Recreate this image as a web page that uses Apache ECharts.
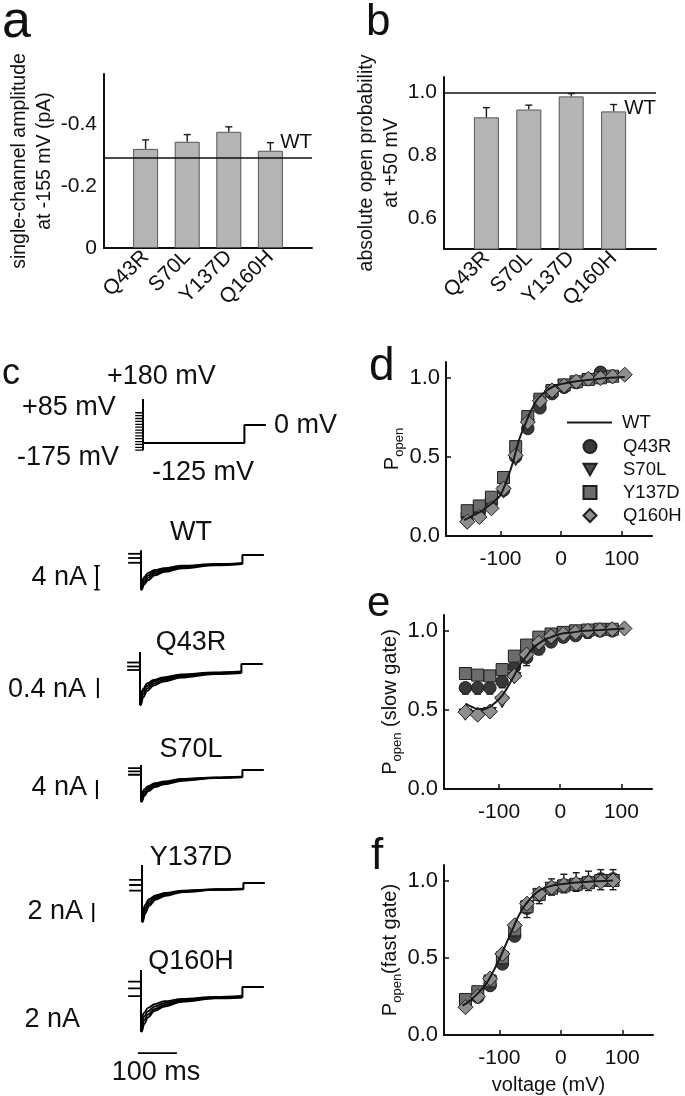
<!DOCTYPE html>
<html><head><meta charset="utf-8">
<script src="https://cdn.jsdelivr.net/npm/echarts@6/dist/echarts.min.js"></script>
<style>html,body{margin:0;padding:0;background:#fff}#c{width:685px;height:1096px}</style>
</head><body><div id="c"></div>
<script>
// ---------------- DATA ----------------
const mutants = ['Q43R', 'S70L', 'Y137D', 'Q160H'];
// panel a: single-channel amplitude at -155 mV (pA)
const ampValues = [-0.319, -0.342, -0.374, -0.313];
const ampErrTop = [-0.348, -0.365, -0.390, -0.339];
const ampWT = -0.29;
const ampTicks = [0, -0.2, -0.4];
// panel b: absolute open probability at +50 mV
const popValues = [0.921, 0.946, 0.988, 0.940];
const popErrTop = [0.952, 0.960, 0.997, 0.962];
const popWT = 1.0;
const popTicks = [0.6, 0.8, 1.0];

// panel c: voltage protocol (mV, ms)
const protoSteps = [-175, -155, -135, -115, -95, -75, -55, -35, -15, 5, 25, 45, 65, 85];
const protoPeak = 180, protoTest = -125, protoTail = 0;
const protoStepStart = -20, testEnd = 260, tailEnd = 315;
// panel c: current traces (nA) sampled at traceT (ms)
const traceT = [2, 8, 18, 35, 60, 105, 190, 260];
const tracesWT = [
  [-4.5, -3.7, -3.0, -2.5, -2.2, -1.8, -1.5, -1.35],
  [-5.0, -4.1, -3.4, -2.8, -2.4, -1.95, -1.6, -1.4],
  [-5.4, -4.5, -3.8, -3.1, -2.6, -2.05, -1.65, -1.45],
  [-5.8, -4.9, -4.2, -3.4, -2.8, -2.2, -1.7, -1.5]];
const tracesQ43R = [
  [-0.62, -0.50, -0.39, -0.32, -0.27, -0.21, -0.17, -0.15],
  [-0.68, -0.55, -0.44, -0.35, -0.29, -0.23, -0.18, -0.16],
  [-0.75, -0.61, -0.49, -0.39, -0.32, -0.25, -0.19, -0.17],
  [-0.82, -0.67, -0.54, -0.43, -0.35, -0.27, -0.20, -0.18]];
const tracesS70L = [
  [-5.0, -4.1, -3.4, -2.8, -2.4, -1.9, -1.55, -1.4],
  [-5.6, -4.6, -3.8, -3.1, -2.6, -2.0, -1.6, -1.45],
  [-6.2, -5.1, -4.2, -3.4, -2.8, -2.15, -1.65, -1.5],
  [-6.7, -5.5, -4.5, -3.6, -3.0, -2.25, -1.7, -1.55]];
const tracesY137D = [
  [-3.0, -2.3, -1.7, -1.3, -1.05, -0.8, -0.66, -0.6],
  [-3.4, -2.6, -1.95, -1.45, -1.15, -0.85, -0.68, -0.62],
  [-3.8, -2.9, -2.2, -1.6, -1.25, -0.9, -0.7, -0.64],
  [-4.1, -3.2, -2.4, -1.75, -1.35, -0.95, -0.72, -0.66]];
const tracesQ160H = [
  [-3.2, -2.7, -2.2, -1.8, -1.5, -1.25, -1.05, -0.95],
  [-3.7, -3.1, -2.55, -2.05, -1.7, -1.35, -1.1, -1.0],
  [-4.2, -3.5, -2.9, -2.3, -1.9, -1.45, -1.15, -1.05],
  [-4.7, -3.9, -3.2, -2.5, -2.05, -1.55, -1.2, -1.1]];
const stubsWT = [0.2, -0.5, -1.3];
const stubsQ43R = [0.03, -0.05, -0.12];
const stubsS70L = [0.4, -0.3, -1.0];
const stubsY137D = [0.32, -0.21, -0.81];
const stubsQ160H = [0.56, -0.14, -0.95];
const spikeWT = [0.8, -5.8];
const spikeQ43R = [0.24, -0.82];
const spikeS70L = [1.05, -6.7];
const spikeY137D = [1.9, -4.1];
const spikeQ160H = [1.8, -4.7];
const scaleWT = [-1.8, -5.8];      // 4 nA
const scaleQ43R = [-0.28, -0.68];  // 0.4 nA
const scaleS70L = [-2.1, -6.1];    // 4 nA
const scaleY137D = [-2.1, -4.1];   // 2 nA
const timeBar = [-8, 92];          // 100 ms
const timeBarLevel = -6.95;

// panels d, e, f: voltages (mV)
const voltages = [-155, -135, -115, -95, -75, -55, -35, -15, 5, 25, 45, 65, 85, 105];
const vTicks = [-100, 0, 100];
const pTicks = [0, 0.5, 1];
// d: Popen
const wtDV = [-160, -150, -140, -130, -120, -110, -100, -90, -80, -70, -60, -50, -40, -30, -20, -10, 0, 20, 40, 60, 80, 105];
const wtD  = [0.10, 0.12, 0.14, 0.16, 0.19, 0.22, 0.26, 0.35, 0.46, 0.60, 0.70, 0.79, 0.86, 0.90, 0.93, 0.95, 0.96, 0.975, 0.985, 0.993, 1.0, 1.005];
const dQ43R  = [0.12, 0.15, 0.21, 0.29, 0.50, 0.68, 0.81, 0.90, 0.94, 0.97, 0.99, 1.035, 1.01];
const dS70L  = [0.11, 0.14, 0.20, 0.275, 0.48, 0.70, 0.85, 0.91, 0.95, 0.97, 0.99, 1.0, 1.0];
const dY137D = [0.16, 0.19, 0.245, 0.37, 0.565, 0.755, 0.865, 0.92, 0.955, 0.975, 0.99, 1.0, 1.01];
const dQ160H = [0.09, 0.12, 0.175, 0.30, 0.51, 0.72, 0.855, 0.92, 0.95, 0.977, 0.994, 0.998, 1.008, 1.02];
// e: Popen (slow gate)
const wtEV = [-155, -145, -135, -125, -115, -105, -95, -85, -75, -65, -55, -45, -35, -25, -15, 0, 20, 40, 65, 85, 105];
const wtE  = [0.54, 0.52, 0.505, 0.505, 0.52, 0.55, 0.59, 0.65, 0.72, 0.79, 0.84, 0.89, 0.92, 0.945, 0.96, 0.98, 0.99, 1.0, 1.005, 1.01, 1.015];
const eQ43R  = [0.64, 0.64, 0.64, 0.68, 0.77, 0.83, 0.885, 0.93, 0.96, 0.97, 0.99, 1.0, 1.0];
const eS70L  = [0.47, 0.46, 0.48, 0.55, 0.70, 0.83, 0.91, 0.95, 0.97, 0.985, 0.995, 1.0, 1.0];
const eY137D = [0.73, 0.72, 0.715, 0.755, 0.84, 0.91, 0.96, 0.98, 0.99, 1.0, 1.005, 1.01, 1.01];
const eQ160H = [0.486, 0.47, 0.49, 0.575, 0.715, 0.85, 0.925, 0.965, 0.98, 0.99, 1.0, 1.005, 1.01, 1.015];
const eErrV   = [-155, -135, -115, -95, -55, -35, -15, 5, 25, 45, 65];
const eErrMid = [0.64, 0.64, 0.64, 0.68, 0.85, 0.925, 0.965, 0.98, 0.99, 1.0, 1.005];
const eErrLo  = [0.60, 0.60, 0.60, 0.64, 0.78, 0.85, 0.90, 0.93, 0.945, 0.955, 0.965];
// f: Popen (fast gate)
const wtFV = [-160, -150, -140, -130, -120, -110, -100, -90, -80, -70, -60, -50, -40, -30, -20, -10, 0, 20, 40, 60, 85];
const wtF  = [0.19, 0.215, 0.25, 0.29, 0.34, 0.41, 0.49, 0.58, 0.67, 0.76, 0.83, 0.88, 0.92, 0.945, 0.96, 0.97, 0.975, 0.985, 0.99, 0.995, 1.0];
const fQ43R  = [0.22, 0.245, 0.32, 0.46, 0.64, 0.82, 0.905, 0.95, 0.97, 0.975, 0.99, 1.01, 1.01];
const fS70L  = [0.21, 0.26, 0.34, 0.49, 0.67, 0.83, 0.91, 0.95, 0.965, 0.975, 0.985, 0.995, 1.0];
const fY137D = [0.23, 0.28, 0.35, 0.50, 0.68, 0.83, 0.91, 0.95, 0.965, 0.975, 0.985, 1.0, 1.0];
const fQ160H = [0.18, 0.25, 0.365, 0.525, 0.71, 0.85, 0.915, 0.955, 0.97, 0.98, 0.985, 0.99, 1.0];
const fErrV  = [-55, -35, -15, 5, 25, 45, 65, 85];
const fErrLo = [0.76, 0.85, 0.905, 0.92, 0.93, 0.935, 0.94, 0.94];
const fErrHi = [0.85, 0.915, 1.01, 1.04, 1.05, 1.06, 1.07, 1.07];

// ---------------- LAYOUT / STYLE ----------------
const FONT = "'Liberation Sans', Arial, Helvetica, sans-serif";
const INK = '#111';
const zip = (xs, ys) => ys.map((y, i) => [xs[i], y]);
const chart = echarts.init(document.getElementById('c'), null, {renderer: 'canvas'});

const tPx = 0.39;                       // px per ms
const tMin = -140, tMax = 330;
const traceCfg = [
  {name: 'WT',    traces: tracesWT,    stubs: stubsWT,    spike: spikeWT,    bar: scaleWT,    t0: 141, tail: 555, ppn: 6,    ymin: -6.5, ymax: 2,   barT: -113, caps: true},
  {name: 'Q43R',  traces: tracesQ43R,  stubs: stubsQ43R,  spike: spikeQ43R,  bar: scaleQ43R,  t0: 140, tail: 664, ppn: 50,   ymin: -0.9, ymax: 0.3, barT: -108},
  {name: 'S70L',  traces: tracesS70L,  stubs: stubsS70L,  spike: spikeS70L,  bar: scaleS70L,  t0: 141, tail: 770, ppn: 4.75, ymin: -7.5, ymax: 2,   barT: -113},
  {name: 'Y137D', traces: tracesY137D, stubs: stubsY137D, spike: spikeY137D, bar: scaleY137D, t0: 142, tail: 883, ppn: 9.5,  ymin: -4.5, ymax: 2.2, barT: -125},
  {name: 'Q160H', traces: tracesQ160H, stubs: stubsQ160H, spike: spikeQ160H, bar: null,       t0: 141, tail: 987, ppn: 9.5,  ymin: -7.5, ymax: 2,   barT: null}
];

const grids = [], xAxes = [], yAxes = [], series = [];
const axLine = {show: true, onZero: false, lineStyle: {color: INK, width: 2}};
const lineSt = (w) => ({color: '#000', width: w});

function errItem(capLo, capHi) {
  return function (params, api) {
    const x = api.value(0), lo = api.value(1), hi = api.value(2);
    const a = api.coord([x, lo]), b = api.coord([x, hi]);
    const st = {stroke: '#1a1a1a', lineWidth: 1.4, fill: null};
    const ch = [{type: 'line', shape: {x1: a[0], y1: a[1], x2: b[0], y2: b[1]}, style: st}];
    if (capLo) ch.push({type: 'line', shape: {x1: a[0] - 3.5, y1: a[1], x2: a[0] + 3.5, y2: a[1]}, style: st});
    if (capHi) ch.push({type: 'line', shape: {x1: b[0] - 3.5, y1: b[1], x2: b[0] + 3.5, y2: b[1]}, style: st});
    return {type: 'group', children: ch};
  };
}

// ---- panel a & b (bar charts) ----
const padded = ['', ...mutants, ''];
function barPanel(gi, grid, ymin, ymax, inverse, ticks, fmt, name, nameGap, values, errTop, wt, wtPos) {
  grids.push(grid);
  xAxes.push({gridIndex: gi, type: 'category', data: padded, boundaryGap: false,
    axisLine: axLine, axisTick: {show: false},
    axisLabel: {interval: 0, rotate: 45, fontSize: 21, color: INK, fontFamily: FONT, margin: 6}});
  yAxes.push({gridIndex: gi, type: 'value', min: ymin, max: ymax, inverse: inverse,
    axisLine: axLine, axisTick: {show: false}, splitLine: {show: false},
    axisLabel: {customValues: ticks, formatter: fmt, fontSize: 21, color: INK, fontFamily: FONT, margin: 7},
    name: name, nameLocation: 'middle', nameGap: nameGap,
    nameTextStyle: {fontSize: 19.5, lineHeight: 25, color: INK, fontFamily: FONT}});
  series.push({type: 'bar', xAxisIndex: gi, yAxisIndex: gi, barWidth: 25,
    data: ['-', ...values, '-'],
    itemStyle: {color: '#b4b4b4', borderColor: '#555', borderWidth: 1},
    markLine: {silent: true, symbol: 'none', data: [{yAxis: wt}],
      lineStyle: {color: INK, width: 1.6, type: 'solid'},
      label: {show: true, position: wtPos, formatter: 'WT', fontSize: 20.5, color: INK, fontFamily: FONT,
        distance: 5, offset: [5, 0]}}});
  series.push({type: 'custom', xAxisIndex: gi, yAxisIndex: gi, renderItem: errItem(false, true),
    data: values.map((v, i) => [i + 1, v, errTop[i]]), silent: true});
}
barPanel(0, {left: 104, top: 74, width: 208, height: 174}, -0.56, 0, true, ampTicks,
  v => (v === 0 ? '0' : v.toFixed(1)), 'single-channel amplitude\nat -155 mV (pA)', 47,
  ampValues, ampErrTop, ampWT, 'insideEndTop');
barPanel(1, {left: 444, top: 77, width: 212, height: 172}, 0.5, 1.05, false, popTicks,
  v => v.toFixed(1), 'absolute open probability\nat +50 mV', 25,
  popValues, popErrTop, popWT, 'insideEndBottom');

// ---- panel c: protocol ----
const protoTop = 425, protoPpm = 0.144;
grids.push({left: 143 + tMin * tPx, width: (tMax - tMin) * tPx, top: protoTop - 200 * protoPpm, height: 400 * protoPpm});
xAxes.push({gridIndex: 2, type: 'value', min: tMin, max: tMax, show: false});
yAxes.push({gridIndex: 2, type: 'value', min: -200, max: 200, show: false});
const plain = (gi, data, w) => ({type: 'line', xAxisIndex: gi, yAxisIndex: gi, data: data, symbol: 'none',
  lineStyle: lineSt(w), silent: true, clip: false});
series.push(plain(2, [[0, protoSteps[0]], [0, protoPeak]], 2));
protoSteps.forEach(v => series.push(plain(2, [[protoStepStart, v], [0, v]], 1.3)));
series.push(plain(2, [[0, protoTest], [testEnd, protoTest], [testEnd, protoTail], [tailEnd, protoTail]], 2));

// ---- panel c: traces ----
const capHalf = 7; // ms, half width of the scale-bar caps
traceCfg.forEach((c, k) => {
  const gi = 3 + k;
  grids.push({left: c.t0 + tMin * tPx, width: (tMax - tMin) * tPx,
    top: c.tail - c.ymax * c.ppn, height: (c.ymax - c.ymin) * c.ppn});
  xAxes.push({gridIndex: gi, type: 'value', min: tMin, max: tMax, show: false});
  yAxes.push({gridIndex: gi, type: 'value', min: c.ymin, max: c.ymax, show: false});
  c.stubs.forEach(v => series.push(plain(gi, [[-33, v], [-2, v]], 1.8)));
  series.push(plain(gi, [[0, c.spike[0]], [0, c.spike[1]]], 2));
  c.traces.forEach(tr => {
    const s = plain(gi, [[0, c.spike[1] * 0.98], ...zip(traceT, tr)], 1.9);
    s.smooth = 0.35; s.smoothMonotone = 'x';
    series.push(s);
  });
  const lastMin = Math.min(...c.traces.map(tr => tr[tr.length - 1]));
  series.push(plain(gi, [[testEnd, lastMin], [testEnd, 0], [tailEnd, 0]], 2));
  if (c.bar) {
    series.push(plain(gi, [[c.barT, c.bar[0]], [c.barT, c.bar[1]]], 2));
    if (c.caps) c.bar.forEach(v => series.push(plain(gi, [[c.barT - capHalf, v], [c.barT + capHalf, v]], 1.6)));
  }
  if (k === 4) series.push(plain(gi, [[timeBar[0], timeBarLevel], [timeBar[1], timeBarLevel]], 1.8));
});

// ---- panels d, e, f ----
const TRI = 'path://M0,0L12,0L6,10.4Z';
const markers = {
  Q43R:  {symbol: 'circle', size: 12.5, color: '#383838'},
  S70L:  {symbol: TRI, size: 13, color: '#4c4c4c'},
  Y137D: {symbol: 'rect', size: 12, color: '#6c6c6c'},
  Q160H: {symbol: 'diamond', size: 15, color: '#8e8e8e'}
};
function popPanel(gi, grid, name, wtV, wtY, sets, extra) {
  grids.push(grid);
  xAxes.push({gridIndex: gi, type: 'value', min: -190, max: 150,
    axisLine: axLine, splitLine: {show: false},
    axisTick: {customValues: vTicks, inside: true, length: 5, lineStyle: {color: INK, width: 1.5}},
    axisLabel: {customValues: vTicks, fontSize: 21, color: INK, fontFamily: FONT, margin: 13},
    name: gi === 10 ? 'voltage (mV)' : '', nameLocation: 'middle', nameGap: 40,
    nameTextStyle: {fontSize: 20, color: INK, fontFamily: FONT}});
  yAxes.push({gridIndex: gi, type: 'value', min: 0, max: 1.1,
    axisLine: axLine, splitLine: {show: false},
    axisTick: {customValues: pTicks, inside: true, length: 5, lineStyle: {color: INK, width: 1.5}},
    axisLabel: {customValues: pTicks, formatter: v => v.toFixed(1), fontSize: 22, color: INK, fontFamily: FONT, margin: 6},
    name: name, nameLocation: 'middle', nameGap: 34,
    nameTextStyle: {fontSize: 20, color: INK, fontFamily: FONT, lineHeight: 26,
      rich: {s: {fontSize: 13, fontFamily: FONT, color: INK, verticalAlign: 'bottom', lineHeight: 13}}}});
  series.push({type: 'line', name: 'WT', xAxisIndex: gi, yAxisIndex: gi, data: zip(wtV, wtY),
    symbol: 'none', smooth: 0.3, lineStyle: {color: '#1a1a1a', width: 2}, itemStyle: {color: '#1a1a1a'}, silent: true});
  if (extra) series.push(extra);
  mutants.forEach(m => {
    const mk = markers[m];
    series.push({type: 'scatter', name: m, xAxisIndex: gi, yAxisIndex: gi, data: zip(voltages, sets[m]),
      symbol: mk.symbol, symbolSize: mk.size, symbolKeepAspect: true,
      itemStyle: {color: mk.color, borderColor: '#1e1e1e', borderWidth: 1, opacity: 1}, silent: true});
  });
}
popPanel(8, {left: 446, top: 362, width: 206, height: 174}, 'P{s|open}', wtDV, wtD,
  {Q43R: dQ43R, S70L: dS70L, Y137D: dY137D, Q160H: dQ160H}, null);
popPanel(9, {left: 444, top: 615, width: 208, height: 174}, 'P{s|open} (slow gate)', wtEV, wtE,
  {Q43R: eQ43R, S70L: eS70L, Y137D: eY137D, Q160H: eQ160H},
  {type: 'custom', xAxisIndex: 9, yAxisIndex: 9, renderItem: errItem(true, false), silent: true,
   data: eErrV.map((v, i) => [v, eErrLo[i], eErrMid[i]])});
popPanel(10, {left: 444, top: 865, width: 209, height: 173}, 'P{s|open}(fast gate)', wtFV, wtF,
  {Q43R: fQ43R, S70L: fS70L, Y137D: fY137D, Q160H: fQ160H},
  {type: 'custom', xAxisIndex: 10, yAxisIndex: 10, renderItem: errItem(true, true), silent: true,
   data: fErrV.map((v, i) => [v, fErrLo[i], fErrHi[i]])});

// ---- texts ----
const txt = (text, x, y, size, align) => ({type: 'text', x: x, y: y, silent: true,
  style: {text: text, fontSize: size, fontFamily: FONT, fill: INK, align: align || 'left', verticalAlign: 'middle'}});
const graphics = [
  txt('a', 2, 23, 52), txt('b', 366, 23, 44), txt('c', 2, 374, 36),
  txt('d', 369, 367, 46), txt('e', 367, 604, 42), txt('f', 371, 857, 44),
  txt('+180 mV', 107, 377, 27), txt('+85 mV', 22, 408, 27), txt('-175 mV', 17, 458, 27),
  txt('-125 mV', 152, 473, 27), txt('0 mV', 274, 426, 27),
  txt('4 nA', 87, 578, 27, 'right'), txt('0.4 nA', 86, 690, 27, 'right'), txt('4 nA', 87, 788, 27, 'right'),
  txt('2 nA', 83, 912, 27, 'right'), txt('2 nA', 80, 1020, 27, 'right'),
  txt('100 ms', 156, 1073, 27, 'center')
];
const traceLabelY = [533, 643, 750, 858, 962];
traceCfg.forEach((c, k) => graphics.push(txt(c.name, 191, traceLabelY[k], 27, 'center')));

const legendText = {fontSize: 18.5, color: INK, fontFamily: FONT};
chart.setOption({
  animation: false,
  backgroundColor: '#fff',
  textStyle: {fontFamily: FONT},
  grid: grids, xAxis: xAxes, yAxis: yAxes, series: series,
  legend: [
    {orient: 'vertical', left: 567, top: 413, padding: 0, itemWidth: 45, itemHeight: 13,
     selectedMode: false, data: [{name: 'WT', icon: 'path://M0,0H45V2.2H0Z'}],
     textStyle: Object.assign({padding: [0, 0, 0, 5]}, legendText)},
    {orient: 'vertical', left: 582.5, top: 437, padding: 0, itemWidth: 13, itemHeight: 13, itemGap: 4,
     selectedMode: false,
     data: [{name: 'Q43R', icon: 'circle'}, {name: 'S70L', icon: TRI}, {name: 'Y137D', icon: 'rect'}, {name: 'Q160H', icon: 'diamond'}],
     textStyle: Object.assign({padding: [0, 0, 0, 21.5]}, legendText)}
  ],
  graphic: graphics
});
</script></body></html>
